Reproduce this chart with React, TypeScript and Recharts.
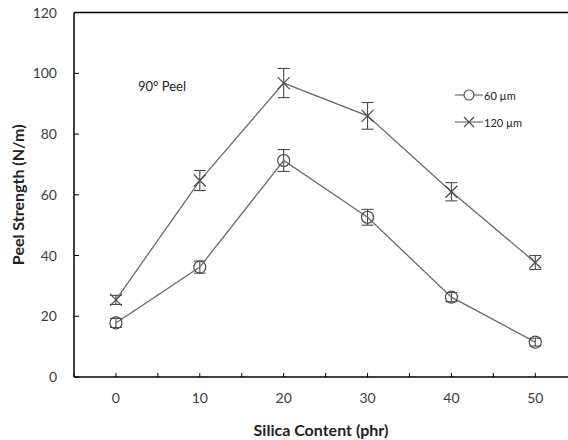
import * as React from 'react';
import {
  ComposedChart,
  Line,
  XAxis,
  YAxis,
  ErrorBar,
  ReferenceLine,
} from 'recharts';

const silica = [0, 10, 20, 30, 40, 50];
const peel60 = [17.8, 36.2, 71.3, 52.6, 26.3, 11.5];
const err60 = [1.5, 2, 3.6, 2.6, 1.5, 1.3];
const peel120 = [25.4, 64.7, 96.8, 86, 61, 37.7];
const err120 = [1.5, 3.3, 4.8, 4.4, 3, 2.3];

const xTicks = [-5, 0, 5, 10, 15, 20, 25, 30, 35, 40, 45, 50];
const yTicks = [0, 20, 40, 60, 80, 100, 120];

const FONT = 'Lato, "Open Sans", sans-serif';
const LINE = '#6a6a6a';
const MARK = '#4a4a4a';

const rows = silica.map((s, i) => ({
  silica: s,
  p60: peel60[i],
  e60: err60[i],
  p120: peel120[i],
  e120: err120[i],
}));

function CircleDot(props: any) {
  const { cx, cy } = props;
  if (cx == null || cy == null) return null;
  return <circle cx={cx} cy={cy} r={6} fill="none" stroke={MARK} strokeWidth={1.2} />;
}

function CrossDot(props: any) {
  const { cx, cy } = props;
  if (cx == null || cy == null) return null;
  const d = 6;
  return (
    <path
      d={`M${cx - d},${cy - d}L${cx + d},${cy + d}M${cx - d},${cy + d}L${cx + d},${cy - d}`}
      stroke={MARK}
      strokeWidth={1.2}
      fill="none"
    />
  );
}

function LegendIcon({ kind }: { kind: 'circle' | 'cross' }) {
  return (
    <svg width={28} height={14} style={{ display: 'block' }}>
      <line x1={0} y1={7} x2={28} y2={7} stroke={LINE} strokeWidth={1.2} />
      {kind === 'circle' ? (
        <circle cx={14} cy={7} r={5} fill="white" stroke={MARK} strokeWidth={1.1} />
      ) : (
        <path d="M9,2L19,12M9,12L19,2" stroke={MARK} strokeWidth={1.1} />
      )}
    </svg>
  );
}

export default function App() {
  return (
    <div style={{ position: 'absolute', left: 0, top: 0, width: 568, height: 440, background: '#fff' }}>
      <ComposedChart
        width={568}
        height={440}
        data={rows}
        margin={{ top: 12.6, right: 0, left: 0, bottom: 0 }}
      >
        <XAxis
          dataKey="silica"
          type="number"
          domain={[-5, 53.9]}
          ticks={xTicks}
          interval={0}
          allowDataOverflow
          height={63}
          tickSize={-4}
          tickMargin={20}
          tickFormatter={(v: number) => (v >= 0 && v % 10 === 0 ? String(v) : '')}
          axisLine={{ stroke: '#000', strokeWidth: 1.5 }}
          tickLine={{ stroke: '#000' }}
          tick={{ fill: '#3c3c3c', fontSize: 14, fontFamily: FONT }}
          label={{
            value: 'Silica Content (phr)',
            position: 'insideBottom',
            offset: 4,
            style: { fill: '#222', fontSize: 16, fontWeight: 700, fontFamily: FONT },
          }}
        />
        <YAxis
          type="number"
          domain={[0, 120]}
          ticks={yTicks}
          interval={0}
          width={74}
          tickSize={-5}
          tickMargin={22}
          axisLine={{ stroke: '#000', strokeWidth: 1.5 }}
          tickLine={{ stroke: '#000' }}
          tick={{ fill: '#3c3c3c', fontSize: 14, fontFamily: FONT }}
          label={{
            value: 'Peel Strength (N/m)',
            position: 'center',
            angle: -90,
            dx: -19,
            style: { fill: '#222', fontSize: 16, fontWeight: 700, fontFamily: FONT },
          }}
        />
        <ReferenceLine y={120} stroke="#000" strokeWidth={1.5} />

        <Line
          dataKey="p60"
          stroke={LINE}
          strokeWidth={1.3}
          dot={<CircleDot />}
          activeDot={false}
          isAnimationActive={false}
        >
          <ErrorBar dataKey="e60" width={6} stroke={MARK} strokeWidth={1.1} direction="y" />
        </Line>
        <Line
          dataKey="p120"
          stroke={LINE}
          strokeWidth={1.3}
          dot={<CrossDot />}
          activeDot={false}
          isAnimationActive={false}
        >
          <ErrorBar dataKey="e120" width={6} stroke={MARK} strokeWidth={1.1} direction="y" />
        </Line>
      </ComposedChart>

      <div
        style={{
          position: 'absolute',
          left: 138,
          top: 78,
          fontFamily: FONT,
          fontSize: 13,
          color: '#222',
        }}
      >
        90° Peel
      </div>

      <div
        style={{
          position: 'absolute',
          left: 455,
          top: 88,
          fontFamily: FONT,
          fontSize: 11,
          color: '#222',
        }}
      >
        <div style={{ display: 'flex', alignItems: 'center', height: 14 }}>
          <LegendIcon kind="circle" />
          <span style={{ marginLeft: 1 }}>60 µm</span>
        </div>
        <div style={{ display: 'flex', alignItems: 'center', height: 14, marginTop: 13 }}>
          <LegendIcon kind="cross" />
          <span style={{ marginLeft: 1 }}>120 µm</span>
        </div>
      </div>
    </div>
  );
}
